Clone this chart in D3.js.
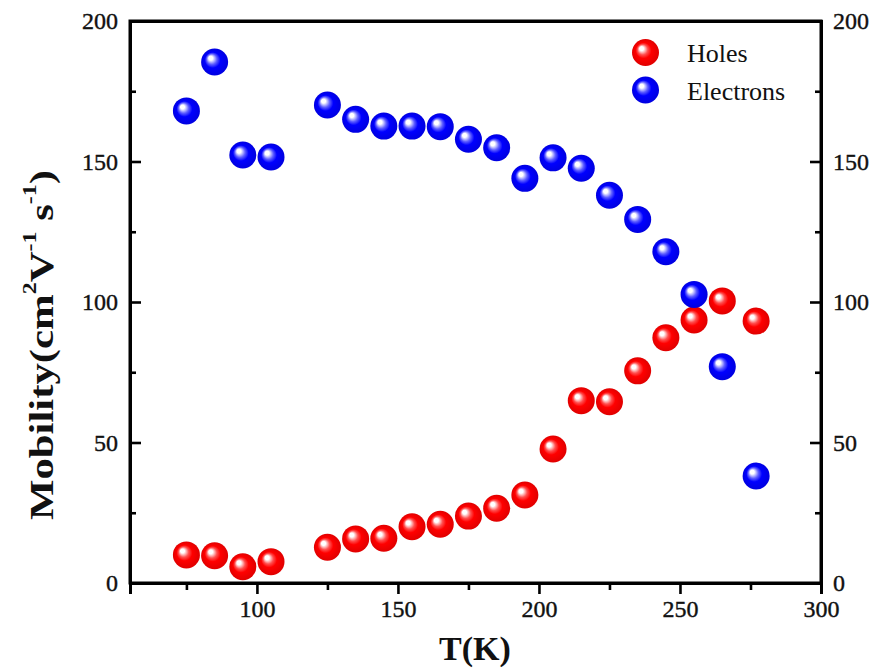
<!DOCTYPE html>
<html>
<head>
<meta charset="utf-8">
<script src="https://cdn.jsdelivr.net/npm/d3@7"></script>
<style>
  html, body { margin: 0; padding: 0; background: #fff; }
  svg { display: block; }
  text { font-family: "Liberation Serif", "Times New Roman", serif; fill: #111; }
</style>
</head>
<body>
<svg id="chart" width="873" height="670"></svg>
<script>
// ---- data ----
const temperatures = [75, 85, 95, 105, 125, 135, 145, 155, 165, 175, 185, 195, 205, 215, 225, 235, 245, 255, 265, 277];
const holes = [10.0, 9.7, 5.8, 7.6, 12.7, 15.7, 15.9, 20.0, 20.9, 23.8, 26.6, 31.3, 47.7, 64.9, 64.5, 75.5, 87.3, 93.6, 100.4, 93.2];
const electrons = [168, 185.4, 152.3, 151.6, 170.1, 165, 162.6, 162.6, 162.4, 157.9, 154.9, 144, 151.3, 147.6, 138, 129.4, 117.9, 102.7, 77, 38.1];
const seriesNames = ["Holes", "Electrons"];
const seriesColors = ["#ff0000", "#0000ff"];
const xMajorTicks = [100, 150, 200, 250, 300];
const xMinorTicks = [75, 125, 175, 225, 275];
const yMajorTicks = [0, 50, 100, 150, 200];
const yMinorTicks = [25, 75, 125, 175];

(function () {
// ---- layout ----
const svg = d3.select("#chart");
const L = 130, R = 821, T = 21, B = 583;
const x = d3.scaleLinear().domain([55, 300]).range([L, R]);
const y = d3.scaleLinear().domain([0, 200]).range([B, T]);

// gradients for glossy spheres
const defs = svg.append("defs");
const midCols = ["#ff5050", "#6060ff"];
const edgeCols = ["#e00000", "#0000e0"];
seriesColors.forEach((c, i) => {
  const g = defs.append("radialGradient")
    .attr("id", "grad" + i)
    .attr("cx", "50%").attr("cy", "50%").attr("r", "50%")
    .attr("fx", "33%").attr("fy", "33%");
  g.append("stop").attr("offset", "0%").attr("stop-color", "#ffffff");
  g.append("stop").attr("offset", "15%").attr("stop-color", "#ffffff").attr("stop-opacity", 0.95);
  g.append("stop").attr("offset", "38%").attr("stop-color", midCols[i]);
  g.append("stop").attr("offset", "58%").attr("stop-color", c);
  g.append("stop").attr("offset", "100%").attr("stop-color", edgeCols[i]);
});

// axes
const axisW = 3;
const gBottom = svg.append("g").attr("transform", `translate(0,${B})`)
  .call(d3.axisBottom(x).tickValues(xMajorTicks).tickSize(11).tickPadding(6).tickFormat(d3.format("d")));
const gBottomMinor = svg.append("g").attr("transform", `translate(0,${B})`)
  .call(d3.axisBottom(x).tickValues(xMinorTicks).tickSize(7).tickFormat(""));
const gLeft = svg.append("g").attr("transform", `translate(${L},0)`)
  .call(d3.axisLeft(y).tickValues(yMajorTicks).tickSize(-11).tickPadding(12).tickFormat(d3.format("d")));
const gLeftMinor = svg.append("g").attr("transform", `translate(${L},0)`)
  .call(d3.axisLeft(y).tickValues(yMinorTicks).tickSize(-6).tickFormat(""));
const gRight = svg.append("g").attr("transform", `translate(${R},0)`)
  .call(d3.axisRight(y).tickValues(yMajorTicks).tickSize(-11).tickPadding(12).tickFormat(d3.format("d")));
const gRightMinor = svg.append("g").attr("transform", `translate(${R},0)`)
  .call(d3.axisRight(y).tickValues(yMinorTicks).tickSize(-6).tickFormat(""));
const gTop = svg.append("g").attr("transform", `translate(0,${T})`)
  .call(d3.axisTop(x).tickValues([]).tickSizeOuter(0));

[gBottom, gBottomMinor, gLeft, gLeftMinor, gRight, gRightMinor, gTop].forEach(g => {
  g.select(".domain").attr("stroke", "#000").attr("stroke-width", axisW);
  g.selectAll(".tick line").attr("stroke", "#000").attr("stroke-width", 2.6);
  g.selectAll(".tick text")
    .attr("font-family", "Liberation Serif, serif").attr("font-size", 24)
    .attr("fill", "#111").attr("stroke", "#111").attr("stroke-width", 0.4);
});
[gBottomMinor, gLeftMinor, gRightMinor].forEach(g => g.select(".domain").remove());
svg.append("rect").attr("x", L).attr("y", T).attr("width", R - L).attr("height", B - T)
  .attr("fill", "none").attr("stroke", "#000").attr("stroke-width", axisW);

// markers
const radius = 13.5;
const seriesData = [holes, electrons];
seriesData.forEach((vals, i) => {
  svg.append("g").selectAll("circle")
    .data(temperatures.map((t, k) => ({ t, v: vals[k] })))
    .join("circle")
    .attr("cx", d => x(d.t))
    .attr("cy", d => y(d.v))
    .attr("r", radius)
    .attr("fill", `url(#grad${i})`);
});

// legend
const legendY = [52.5, 90];
seriesNames.forEach((n, i) => {
  svg.append("circle").attr("cx", 645.5).attr("cy", legendY[i]).attr("r", radius).attr("fill", `url(#grad${i})`);
  svg.append("text").attr("x", 687).attr("y", legendY[i] + 9.5).attr("font-size", 26).text(n);
});

// x title
svg.append("text").attr("x", 475).attr("y", 660).attr("text-anchor", "middle")
  .attr("font-size", 34).attr("font-weight", "bold").text("T(K)");

// y title
const yt = svg.append("text").attr("font-size", 34).attr("font-weight", "bold");
yt.append("tspan").text("Mobility(cm");
yt.append("tspan").attr("dy", -17).attr("font-size", 19).text("2");
yt.append("tspan").attr("dy", 17).text("V");
yt.append("tspan").attr("dy", -17).attr("font-size", 19).text("-1");
yt.append("tspan").attr("dy", 17).text(" s");
yt.append("tspan").attr("dy", -17).attr("font-size", 19).text("-1");
yt.append("tspan").attr("dy", 17).text(")");
const len = yt.node().getComputedTextLength();
const targetLen = 350;
const sx = targetLen / len;
yt.attr("text-anchor", "middle")
  .attr("transform", `translate(53,345) rotate(-90) scale(${sx},1)`);
})();
</script>
</body>
</html>
